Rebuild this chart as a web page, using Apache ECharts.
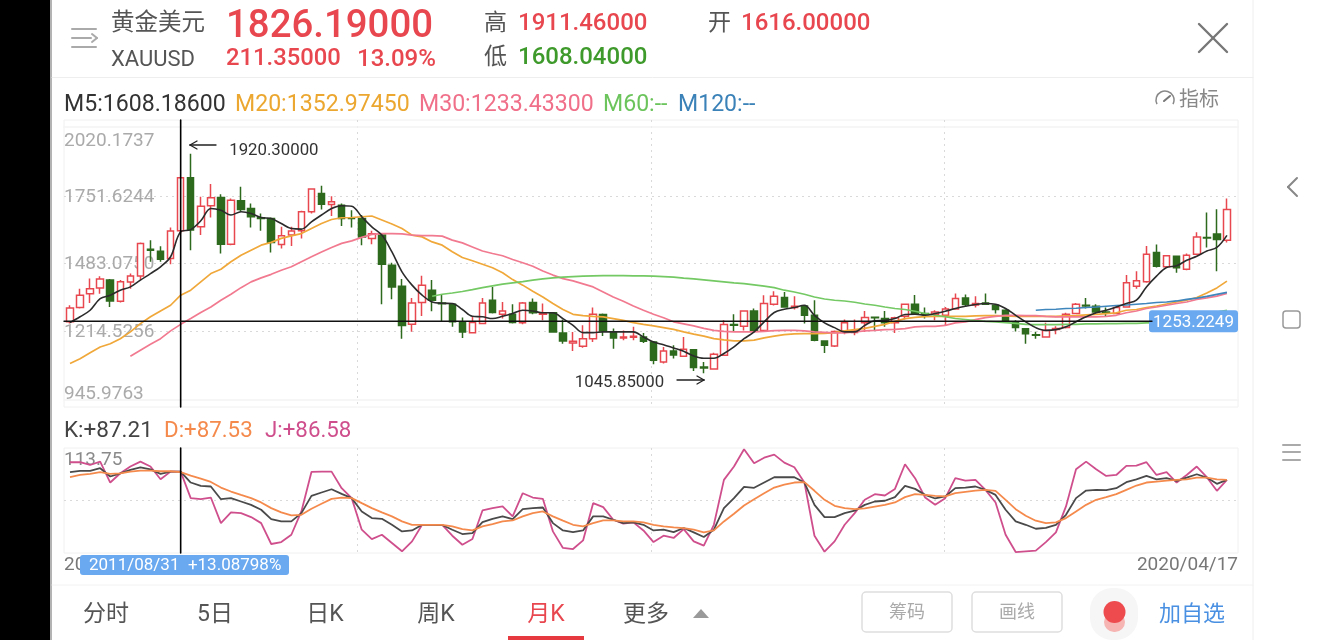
<!DOCTYPE html>
<html><head><meta charset="utf-8">
<style>html,body{margin:0;padding:0;background:#fff}#c{width:1329px;height:640px}</style>
<script src="https://cdn.jsdelivr.net/npm/echarts@6/dist/echarts.min.js"></script>
</head><body><div id="c"></div>
<script>
const startYear = 2010, startMonth = 9;
const opens = [1251,1308,1363,1386,1417,1333,1409,1433,1540,1532,
1503,1613,1824,1629,1713,1746,1560,1733,1702,1665,
1662,1559,1596,1613,1689,1762,1718,1715,1665,1662,
1583,1596,1476,1393,1241,1328,1377,1326,1321,1248,
1208,1244,1337,1281,1281,1247,1328,1281,1287,1207,
1167,1154,1184,1280,1211,1187,1190,1191,1171,1091,
1135,1114,1140,1071,1063,1118,1240,1233,1294,1217,
1321,1348,1308,1314,1277,1175,1155,1211,1209,1247,
1269,1264,1247,1273,1321,1284,1281,1277,1302,1346,
1318,1326,1317,1297,1248,1223,1200,1191,1220,1228,
1284,1317,1313,1290,1284,1310,1393,1410,1527,1470,
1512,1460,1520,1587,1600,1576];
const closes = [1306,1357,1383,1421,1334,1410,1433,1563,1536,1500,
1612,1824,1616,1711,1745,1560,1735,1698,1669,1662,
1567,1593,1612,1689,1779,1719,1729,1662,1662,1589,
1601,1480,1390,1236,1326,1397,1337,1323,1251,1211,
1248,1326,1288,1294,1248,1326,1287,1287,1211,1175,
1174,1184,1281,1215,1187,1191,1194,1174,1098,1135,
1119,1142,1069,1067,1122,1240,1237,1294,1217,1324,
1353,1310,1313,1277,1178,1158,1213,1247,1215,1268,
1267,1247,1267,1321,1284,1281,1290,1302,1344,1320,
1324,1321,1300,1255,1228,1204,1198,1217,1224,1281,
1321,1314,1290,1288,1308,1406,1414,1520,1472,1514,
1466,1516,1589,1585,1579,1698];
const lows = [1244,1304,1326,1363,1310,1328,1383,1417,1490,1490,
1480,1602,1536,1596,1666,1523,1556,1689,1626,1613,
1527,1543,1553,1583,1682,1698,1672,1632,1626,1556,
1560,1321,1341,1184,1212,1274,1293,1250,1231,1187,
1207,1241,1284,1264,1244,1241,1281,1257,1208,1164,
1135,1148,1171,1195,1144,1178,1178,1167,1082,1085,
1105,1111,1055,1046,1062,1115,1215,1217,1207,1213,
1316,1308,1300,1244,1174,1127,1151,1202,1198,1211,
1217,1231,1207,1260,1281,1264,1257,1237,1300,1310,
1308,1320,1284,1251,1213,1164,1184,1188,1202,1224,
1281,1304,1284,1271,1281,1308,1383,1406,1467,1466,
1446,1456,1518,1547,1452,1567];
const highs = [1317,1383,1423,1432,1421,1417,1443,1567,1576,1552,
1626,1826,1920,1749,1799,1759,1742,1788,1722,1682,
1666,1629,1629,1693,1782,1792,1751,1722,1695,1676,
1613,1602,1486,1421,1346,1434,1417,1361,1326,1268,
1271,1346,1390,1330,1321,1330,1344,1324,1290,1260,
1211,1237,1308,1284,1224,1217,1231,1207,1175,1151,
1158,1191,1143,1091,1128,1257,1281,1297,1304,1357,
1373,1370,1353,1317,1337,1178,1217,1260,1260,1294,
1272,1294,1271,1324,1358,1308,1297,1310,1364,1360,
1353,1364,1321,1301,1257,1225,1212,1247,1233,1287,
1326,1346,1321,1308,1313,1437,1452,1553,1559,1516,
1514,1523,1607,1686,1699,1742];
const ma5 = [1248,1271,1297,1343,1357,1377,1390,1417,1443,1470,
1510,1609,1618,1653,1702,1695,1676,1689,1682,1666,
1662,1642,1622,1620,1649,1676,1702,1713,1711,1669,
1629,1596,1529,1450,1397,1357,1330,1325,1324,1300,
1273,1271,1264,1273,1284,1297,1294,1287,1287,1264,
1237,1208,1208,1211,1211,1211,1211,1191,1171,1160,
1147,1134,1115,1106,1106,1125,1151,1184,1211,1251,
1288,1301,1308,1317,1277,1247,1228,1211,1211,1237,
1255,1257,1264,1280,1281,1277,1284,1293,1304,1313,
1320,1324,1321,1304,1277,1251,1228,1217,1220,1231,
1251,1271,1287,1297,1310,1324,1337,1390,1433,1467,
1474,1496,1512,1533,1547,1595];
const ma20 = [1085,1104,1128,1151,1164,1184,1211,1244,1271,1294,
1317,1357,1377,1410,1443,1460,1490,1516,1536,1556,
1567,1583,1593,1602,1622,1642,1658,1665,1666,1669,
1672,1656,1640,1622,1596,1589,1569,1556,1530,1507,
1494,1480,1466,1446,1419,1397,1373,1350,1324,1300,
1281,1276,1273,1271,1264,1257,1248,1241,1235,1228,
1221,1211,1202,1194,1184,1179,1175,1175,1178,1187,
1194,1200,1203,1204,1204,1205,1208,1215,1220,1225,
1233,1241,1253,1264,1269,1272,1273,1273,1273,1273,
1275,1276,1276,1275,1273,1273,1273,1273,1273,1275,
1276,1279,1281,1284,1287,1297,1300,1308,1314,1322,
1330,1337,1348,1366,1386,1413];
const ma30Tail = [1114,1138,1162,1184,1215,1241,1264,1288,1310,1337,
1361,1387,1410,1426,1440,1456,1470,1490,1510,1529,
1547,1563,1573,1587,1599,1602,1602,1601,1596,1594,
1594,1592,1576,1565,1549,1533,1523,1514,1499,1486,
1472,1453,1437,1423,1414,1402,1390,1370,1350,1333,
1314,1297,1281,1267,1251,1243,1235,1225,1217,1213,
1211,1211,1211,1213,1216,1217,1217,1215,1211,1209,
1207,1207,1211,1215,1217,1220,1221,1224,1231,1233,
1233,1237,1247,1251,1260,1268,1273,1277,1277,1276,
1276,1273,1271,1271,1271,1271,1271,1273,1277,1287,
1294,1304,1310,1317,1324,1330,1340,1346,1353,1364];
const ma60Tail = [1353,1361,1366,1372,1379,1387,1394,1401,1406,1411,
1417,1422,1426,1429,1431,1433,1434,1435,1435,1435,
1434,1434,1433,1431,1429,1425,1422,1418,1414,1410,
1406,1403,1398,1393,1387,1377,1370,1361,1350,1342,
1337,1334,1329,1322,1317,1310,1304,1300,1293,1284,
1277,1271,1264,1260,1256,1253,1251,1248,1245,1241,
1240,1240,1240,1241,1241,1243,1243,1244,1244,1245,
1245,1247,1248,1249,1253,1260,1271,1281,1290,1297];
const ma120Tail = [1297,1300,1301,1304,1305,1308,1310,1313,1316,1318,
1321,1324,1328,1330,1334,1340,1345,1352,1360,1368];
const kValues = [93.6,94.7,94.7,96.9,90.0,92.7,95.5,97.7,96.0,92.2,
94.1,94.1,85.0,82.2,81.7,71.1,72.0,69.2,66.4,62.3,
54.5,52.6,52.6,59.5,73.9,76.7,79.4,75.6,72.0,60.9,
55.4,54.8,49.8,44.3,45.1,49.8,49.8,49.6,45.7,42.1,
42.9,52.1,54.8,56.8,54.5,62.8,63.7,64.2,51.2,45.1,
43.7,45.1,56.8,56.8,54.0,51.2,51.8,49.8,45.1,45.7,
43.7,47.1,43.5,39.6,45.7,63.7,72.0,81.4,80.6,85.0,
89.4,89.4,89.4,85.0,66.4,56.2,56.2,59.5,61.5,66.4,
69.2,69.8,72.8,82.2,79.7,74.7,71.7,73.4,80.3,80.8,
81.7,78.9,74.7,62.3,52.6,49.8,46.5,47.3,49.8,58.1,
72.0,78.3,78.9,78.6,80.3,85.3,87.7,90.5,87.7,88.6,
86.4,89.1,91.9,89.1,83.9,87.2];
const dValues = [89.4,91.3,92.2,93.6,92.2,92.7,94.1,94.9,94.9,94.4,
94.4,93.6,90.8,88.3,85.5,80.8,77.5,74.7,72.0,68.4,
63.7,60.1,57.6,58.1,63.1,67.3,71.4,72.5,72.0,67.8,
63.7,60.1,56.8,52.6,49.8,49.8,49.8,49.8,48.5,46.2,
45.1,48.5,50.4,52.6,53.4,56.8,59.5,60.9,56.8,53.2,
49.8,48.5,51.2,53.4,53.4,52.6,52.6,51.8,49.8,48.5,
47.6,47.1,45.7,43.5,45.1,52.6,59.0,65.9,71.1,76.1,
80.8,83.3,85.0,85.3,78.1,70.6,65.6,63.7,62.8,63.4,
65.0,66.4,68.4,72.8,75.3,74.7,73.9,73.4,76.1,77.2,
78.3,78.9,78.1,70.6,62.8,57.3,53.2,51.2,51.8,55.4,
60.9,66.4,70.6,72.8,75.3,78.9,82.5,85.0,85.8,86.6,
87.2,87.7,89.1,89.1,87.7,87.2];
const jValues = [101.9,101.9,99.6,102.4,85.0,92.7,98.3,102.4,98.3,87.7,
94.1,94.1,72.0,71.1,72.5,51.2,60.1,59.5,56.2,51.2,
33.8,35.4,41.5,60.9,93.8,94.1,94.1,80.3,72.0,45.7,
37.9,41.5,34.6,27.7,36.0,49.8,49.8,49.8,40.7,33.2,
37.9,61.7,63.7,65.1,56.8,76.1,72.5,71.4,44.3,30.5,
29.6,36.8,67.8,64.5,54.0,50.7,51.8,45.1,35.4,40.7,
38.8,46.2,36.0,32.4,49.8,87.2,98.3,112.7,101.0,105.7,
108.2,101.6,97.7,85.0,40.7,27.4,36.0,49.8,59.5,70.6,
75.3,74.2,79.7,100.2,88.6,72.5,66.4,72.0,88.6,86.6,
87.2,78.9,68.4,41.5,27.1,27.7,28.3,35.4,43.5,65.1,
96.0,102.4,96.0,90.5,91.3,98.8,99.1,101.9,91.3,93.6,
85.0,91.3,98.3,89.4,78.1,87.2];
const priceTicks = [945.9763,1214.5256,1483.0750,1751.6244,2020.1737];
const kdjTicks = [26.3,70.025,113.75];
const crossValue = 1253.2249;
const crossMonth = '2011/08';
const crossLabel = '2011/08/31  +13.08798%';
const firstDateLabel = '2010/09/30', lastDateLabel = '2020/04/17';
const highLabel = '1920.30000', lowLabel = '1045.85000';
const tabs = ['分时','5日','日K','周K','月K','更多'];

const n = opens.length;
[closes,lows,highs,ma5,ma20,kValues,dValues,jValues].forEach((a,i)=>{ if(a.length!==n) throw new Error('len '+i+' '+a.length); });
if (ma30Tail.length!==110||ma60Tail.length!==80||ma120Tail.length!==20) throw new Error('tails '+ma30Tail.length+' '+ma60Tail.length);
const categories = [];
for (let i=0;i<n;i++){ const t=(startYear*12+startMonth-1+i); categories.push(Math.floor(t/12)+'/'+String(t%12+1).padStart(2,'0')); }
const candles = opens.map((o,i)=>[o,closes[i],lows[i],highs[i]]);
const pad = a => Array(n-a.length).fill('-').concat(a);

const RED='#e8474f', GREEN='#2d6a1e', GRAY='#aaaaaa', LINE='#f0f0f0';
const CJK='Roboto,"Noto Sans CJK SC",sans-serif';
const chart = echarts.init(document.getElementById('c'),null,{renderer:'canvas'});
const hiddenX = (g,extra)=>Object.assign({gridIndex:g,show:false},extra);
const line=(name,data,color,width,extra)=>Object.assign({name,type:'line',data,xAxisIndex:2,yAxisIndex:2,showSymbol:false,symbol:'none',lineStyle:{color,width},itemStyle:{color},connectNulls:false,silent:true,z:5},extra||{});
const kline=(name,data,color,width)=>({name,type:'line',data,xAxisIndex:4,yAxisIndex:4,showSymbol:false,symbol:'none',lineStyle:{color,width},itemStyle:{color},silent:true,z:5});
const dash={show:true,showMinLine:false,showMaxLine:false,lineStyle:{color:'#d9d9d9',type:[2,4],width:1}};
const lab=(name,size,color,lineHeight,pt)=>({fontFamily:'Roboto',fontSize:size,color,lineHeight,padding:pt||0});

chart.setOption({
  animation:false,
  grid:[
    {left:64,top:120,width:1174,height:287,show:true,borderColor:LINE,borderWidth:1,backgroundColor:'transparent'},
    {left:64,top:128.5,width:1174,height:270},
    {left:64.97,top:128.5,width:1167,height:270},
    {left:64,top:448,width:1174,height:105,show:true,borderColor:LINE,borderWidth:1,backgroundColor:'transparent'},
    {left:64.97,top:448,width:1167,height:105}
  ],
  xAxis:[
    {type:'value',gridIndex:0,min:0,max:4,interval:1,axisLine:{show:false},axisTick:{show:false},axisLabel:{show:false},splitLine:dash},
    hiddenX(1,{type:'value',min:0,max:1}),
    hiddenX(2,{type:'category',data:categories,boundaryGap:true}),
    {type:'value',gridIndex:3,min:0,max:4,interval:1,axisLine:{show:false},axisTick:{show:false},axisLabel:{show:false},splitLine:dash},
    hiddenX(4,{type:'category',data:categories,boundaryGap:true})
  ],
  yAxis:[
    {type:'value',gridIndex:0,show:false,min:0,max:1},
    {type:'value',gridIndex:1,min:priceTicks[0],max:priceTicks[4],axisLine:{show:false},
      axisTick:{show:false,customValues:priceTicks},
      axisLabel:{inside:true,customValues:priceTicks,margin:0,color:GRAY,fontFamily:'Roboto',fontSize:19,
        formatter:v=>{const s=v.toFixed(4);return v===priceTicks[4]?'{top|'+s+'}':v===priceTicks[0]?'{low|'+s+'}':'{mid|'+s+'}';},
        verticalAlignMaxLabel:'top',verticalAlignMinLabel:'bottom',
        rich:{top:lab('top',19,GRAY,25),low:lab('low',19,GRAY,8),mid:lab('mid',19,GRAY,19,[2,0,0,0])}},
      splitLine:dash},
    {type:'value',gridIndex:2,show:false,min:priceTicks[0],max:priceTicks[4]},
    {type:'value',gridIndex:3,min:kdjTicks[0],max:kdjTicks[2],axisLine:{show:false},
      axisTick:{show:false,customValues:kdjTicks},
      axisLabel:{inside:true,customValues:kdjTicks,margin:0,color:'#8a8a8a',fontFamily:'Roboto',fontSize:19,
        formatter:v=>v===kdjTicks[2]?'{top|'+v.toFixed(2)+'}':'',
        verticalAlignMaxLabel:'top',rich:{top:lab('top',19,'#8a8a8a',25)}},
      splitLine:dash},
    {type:'value',gridIndex:4,show:false,min:kdjTicks[0],max:kdjTicks[2]}
  ],
  series:[
    {name:'K',type:'candlestick',xAxisIndex:2,yAxisIndex:2,data:candles,barWidth:7,silent:true,z:3,
      itemStyle:{color:'#ffffff',color0:GREEN,borderColor:RED,borderColor0:GREEN,borderWidth:1.5}},
    line('M5',ma5,'#2b2b2b',1.6,{smooth:0.35,z:7}),
    line('M20',ma20,'#f0a83a',1.7),
    line('M30',pad(ma30Tail),'#f27a90',1.7),
    line('M60',pad(ma60Tail),'#74c964',1.6),
    line('M120',pad(ma120Tail),'#3f86bd',1.7),
    kline('J',jValues,'#cf4f8d',1.8),
    kline('K',kValues,'#4a4a4a',1.8),
    kline('D',dValues,'#f58a4d',1.8)
  ]
});

function T(text,x,y,size,fill,align,weight,z){
  return {type:'text',z:z||50,silent:true,style:{text,x,y:y+1.5,fill,align:align||'left',verticalAlign:'middle',font:(weight||400)+' '+size+'px '+CJK}};
}
function L(x1,y1,x2,y2,stroke,w){
  return {type:'line',z:50,silent:true,shape:{x1,y1,x2,y2},style:{stroke,lineWidth:w||1,lineCap:'round'}};
}
function R(x,y,w,h,fill,r,stroke){
  return {type:'rect',z:49,silent:true,shape:{x,y,width:w,height:h,r:r||0},style:{fill:fill||'none',stroke:stroke||null,lineWidth:stroke?1.5:0}};
}
const px=(i,v)=>chart.convertToPixel({xAxisIndex:2,yAxisIndex:2},[i,v]);
const crossIdx=categories.indexOf(crossMonth);
const cp=px(crossIdx,crossValue);
const hiIdx=highs.indexOf(Math.max.apply(null,highs)), loIdx=lows.indexOf(Math.min.apply(null,lows));
const hp=px(hiIdx,highs[hiIdx]), lp=px(loIdx,lows[loIdx]);

const g=[
  R(0,0,50,640,'#000'),
  L(51,0,51,640,'#9a9a9a',1.5),
  L(52,77.5,1253,77.5,'#eeeeee',1),
  L(1253,0,1253,640,'#eeeeee',1),
  L(64,127,1238,127,'#f3f3f3',1.5), L(64,400,1238,400,'#f3f3f3',1.5),
  L(52,585,1253,585,'#f2f2f2',1),
  // header
  L(72,29,96,29,'#aaa',2), L(72,38,91,38,'#aaa',2), L(72,47,96,47,'#aaa',2),
  L(92,34,97,38,'#aaa',2), L(97,38,92,42,'#aaa',2),
  T('黄金美元',111,23,23.5,'#555'),
  T('XAUUSD',111,59,22,'#555'),
  T('1826.19000',226,25.5,38.4,RED,'left',500),
  T('211.35000',226,58,23.8,RED,'left',500),
  T('13.09%',357,58,24,RED,'left',500),
  T('高',484,22.5,23,'#555'),
  T('1911.46000',518,22.5,24,RED,'left',500),
  T('低',484,56.5,23,'#555'),
  T('1608.04000',518,56.5,24,'#3f9a2c','left',500),
  T('开',708,22.5,23,'#555'),
  T('1616.00000',741,22.5,24,RED,'left',500),
  L(1199,24,1227,52,'#777',2.4), L(1227,24,1199,52,'#777',2.4),
  // MA legend
  T('M5:1608.18600',64,104,23.1,'#333'),
  T('M20:1352.97450',235,104,23.1,'#eba730'),
  T('M30:1233.43300',419,104,23.1,'#f0708a'),
  T('M60:--',603,104,23.1,'#6cc45c'),
  T('M120:--',678,104,23.1,'#3b82b8'),
  {type:'arc',z:50,silent:true,shape:{cx:1165,cy:100,r:9,startAngle:Math.PI*0.85,endAngle:Math.PI*2.15},style:{fill:'none',stroke:'#888',lineWidth:1.5}},
  L(1164,101,1170,96,'#777',2),
  T('指标',1179,99,20,'#888'),
  // annotations
  L(190,145,216,145,'#222',1.3), L(190,145,197,141,'#222',1.3), L(190,145,197,149,'#222',1.3),
  T(highLabel,hp[0]+38.5,hp[1]-4.5,16.8,'#333'),
  T(lowLabel,lp[0]-129,lp[1]+7.5,16.8,'#333'),
  L(677,380,704,380,'#222',1.3), L(704,380,697,376,'#222',1.3), L(704,380,697,384,'#222',1.3),
  // crosshair driven by the chart scales
  L(cp[0],120,cp[0],407,'#000',1.6),
  L(cp[0],448,cp[0],553,'#000',1.6),
  L(64,cp[1],1152,cp[1],'#111',1.3),
  R(1149,cp[1]-11,89,22,'#6aa9ef',3),
  T(crossValue.toFixed(4),1193.5,cp[1]-0.5,17,'#fff','center'),
  // KDJ legend
  T('K:+87.21',64,430,22.5,'#444'),
  T('D:+87.53',164,430,22.3,'#f58a4d'),
  T('J:+86.58',265,430,22.3,'#cf4f8d'),
  // date labels
  T(firstDateLabel,64,564,19,'#777','left',400,10),
  T(lastDateLabel,1238,564,19,'#777','right'),
  R(80,555,209,20,'#6aa9ef',3),
  T(crossLabel,89,564,17,'#fff'),
  // bottom tabs
  T(tabs[0],106,614,23,'#555','center'),
  T(tabs[1],215,614,23,'#555','center'),
  T(tabs[2],325,614,23,'#555','center'),
  T(tabs[3],436,614,23,'#555','center'),
  T(tabs[4],546,614,23,RED,'center'),
  T(tabs[5],646,614,23,'#555','center'),
  R(508,636,76,4,'#e5383f'),
  {type:'polygon',z:50,silent:true,shape:{points:[[693,618],[709,618],[701,609]]},style:{fill:'#9a9a9a'}},
  R(862,592,90,40,'#fff',4,'#dedede'),
  T('筹码',907,612,18,'#aaa','center'),
  R(972,592,90,40,'#fff',4,'#dedede'),
  T('画线',1017,612,18,'#aaa','center'),
  R(1090,588,48,52,'#f6f6f6',22),
  R(1104,612,21,20,'#f6b4b2',10),
  {type:'circle',z:50,silent:true,shape:{cx:1114.5,cy:612,r:11},style:{fill:'#ee4b4f'}},
  T('加自选',1192,614,22,'#4a90e2','center'),
  // system nav
  L(1297,178,1288,187,'#888',2), L(1288,187,1297,196,'#888',2),
  R(1283,311,17,17,'#fff',3,'#999'),
  L(1283,445,1300,445,'#aaa',2), L(1283,452,1300,452,'#aaa',2), L(1283,460,1300,460,'#aaa',2)
];
chart.setOption({graphic:{elements:g}});
</script></body></html>
